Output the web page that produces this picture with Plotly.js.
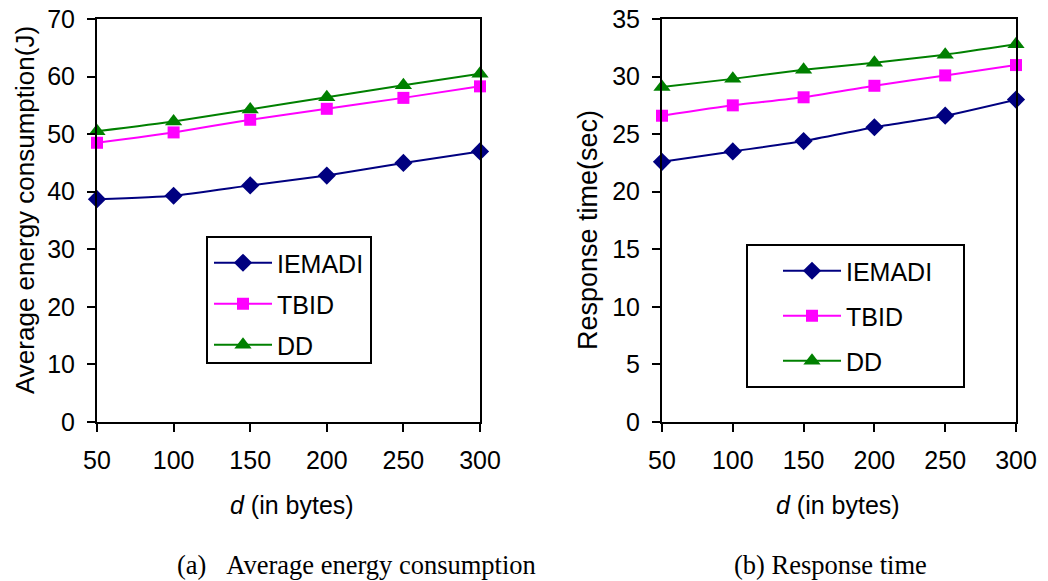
<!DOCTYPE html>
<html><head><meta charset="utf-8">
<script src="https://cdn.plot.ly/plotly-3.0.1.min.js"></script>
<style>html,body{margin:0;padding:0;background:#fff}#chart{width:1048px;height:581px}</style>
</head><body><div id="chart"></div>
<script>
const sizes = [50, 100, 150, 200, 250, 300];
const energyIEMADI = [38.7, 39.3, 41.1, 42.8, 45.0, 47.0];
const energyTBID = [48.5, 50.3, 52.5, 54.4, 56.3, 58.3];
const energyDD = [50.5, 52.2, 54.3, 56.4, 58.5, 60.5];
const respIEMADI = [22.6, 23.5, 24.4, 25.6, 26.6, 28.0];
const respTBID = [26.6, 27.5, 28.2, 29.2, 30.1, 31.0];
const respDD = [29.1, 29.8, 30.6, 31.2, 31.9, 32.8];
const seriesNames = ['IEMADI', 'TBID', 'DD'];
const energyTicks = [0, 10, 20, 30, 40, 50, 60, 70];
const respTicks = [0, 5, 10, 15, 20, 25, 30, 35];
const xTitle = '<i>d</i> (in bytes)';
const yTitleA = 'Average energy consumption(J)';
const yTitleB = 'Response time(sec)';
const captionA = '(a)\u00A0\u00A0\u00A0Average energy consumption';
const captionB = '(b) Response time';

const colors = ['#000080', '#FF00FF', '#008000'];
const symbols = ['diamond', 'square', 'triangle-up'];
const msizes = [14, 12, 15];
const SANS = 'Liberation Sans, Arial, sans-serif';
const SERIF = 'Liberation Serif, Times New Roman, serif';

function mk(y, i, xa, ya, lg) {
  return {
    x: sizes, y: y, name: seriesNames[i], type: 'scatter', mode: 'lines+markers',
    xaxis: xa, yaxis: ya, legend: lg, legendgroup: lg + i, cliponaxis: false,
    line: {color: colors[i], width: 2, shape: 'spline', smoothing: 0.5},
    marker: {color: colors[i], symbol: symbols[i], size: msizes[i]}
  };
}
const data = [
  mk(energyIEMADI, 0, 'x', 'y', 'legend'),
  mk(energyTBID, 1, 'x', 'y', 'legend'),
  mk(energyDD, 2, 'x', 'y', 'legend'),
  mk(respIEMADI, 0, 'x2', 'y2', 'legend2'),
  mk(respTBID, 1, 'x2', 'y2', 'legend2'),
  mk(respDD, 2, 'x2', 'y2', 'legend2')
];

const W = 1048, H = 581;
const px = v => v / W, py = v => 1 - v / H;
const axisStyle = {
  showline: true, linecolor: '#000', linewidth: 2, mirror: true,
  ticks: 'outside', ticklen: 8, tickwidth: 2, tickcolor: '#000',
  showgrid: false, zeroline: false,
  tickfont: {family: SANS, size: 25, color: '#000'}
};
const layout = {
  width: W, height: H,
  margin: {l: 0, r: 0, t: 0, b: 0},
  paper_bgcolor: '#fff', plot_bgcolor: '#fff',
  font: {family: SANS, size: 25, color: '#000'},
  xaxis: Object.assign({}, axisStyle, {domain: [px(97), px(480)], range: [50, 300], tickvals: sizes, anchor: 'y', ticklabelstandoff: 7}),
  yaxis: Object.assign({}, axisStyle, {domain: [py(422), py(19)], range: [0, 70], tickvals: energyTicks, anchor: 'x', ticklabelstandoff: 7}),
  xaxis2: Object.assign({}, axisStyle, {domain: [px(662), px(1016)], range: [50, 300], tickvals: sizes, anchor: 'y2', ticklabelstandoff: 7}),
  yaxis2: Object.assign({}, axisStyle, {domain: [py(422), py(19)], range: [0, 35], tickvals: respTicks, anchor: 'x2', ticklabelstandoff: 7}),
  legend: {x: px(209), y: py(240), xanchor: 'left', yanchor: 'top', bgcolor: 'rgba(0,0,0,0)', borderwidth: 0, itemwidth: 58,
    font: {family: SANS, size: 25, color: '#000'}, traceorder: 'grouped', tracegroupgap: 5.5},
  legend2: {x: px(778), y: py(248), xanchor: 'left', yanchor: 'top', bgcolor: 'rgba(0,0,0,0)', borderwidth: 0, itemwidth: 58,
    font: {family: SANS, size: 25, color: '#000'}, traceorder: 'grouped', tracegroupgap: 9.5},
  shapes: [
    {type: 'rect', xref: 'paper', yref: 'paper', x0: px(207), x1: px(371), y0: py(363), y1: py(237), line: {color: '#000', width: 2}},
    {type: 'rect', xref: 'paper', yref: 'paper', x0: px(747), x1: px(964), y0: py(387), y1: py(245), line: {color: '#000', width: 2}}
  ],
  annotations: [
    {text: yTitleA, xref: 'paper', yref: 'paper', x: px(25), y: py(210), textangle: -90, showarrow: false, xanchor: 'center', yanchor: 'middle', font: {family: SANS, size: 26}},
    {text: yTitleB, xref: 'paper', yref: 'paper', x: px(588), y: py(230), textangle: -90, showarrow: false, xanchor: 'center', yanchor: 'middle', font: {family: SANS, size: 27}},
    {text: xTitle, xref: 'paper', yref: 'paper', x: px(292), y: py(505), showarrow: false, xanchor: 'center', yanchor: 'middle', font: {family: SANS, size: 25}},
    {text: xTitle, xref: 'paper', yref: 'paper', x: px(838), y: py(505), showarrow: false, xanchor: 'center', yanchor: 'middle', font: {family: SANS, size: 25}},
    {text: captionA, xref: 'paper', yref: 'paper', x: px(175), y: py(565), showarrow: false, xanchor: 'left', yanchor: 'middle', font: {family: SERIF, size: 26.5}},
    {text: captionB, xref: 'paper', yref: 'paper', x: px(830), y: py(565), showarrow: false, xanchor: 'center', yanchor: 'middle', font: {family: SERIF, size: 26.5}}
  ],
  showlegend: true
};
Plotly.newPlot('chart', data, layout, {displayModeBar: false, staticPlot: true});
</script>
</body></html>
